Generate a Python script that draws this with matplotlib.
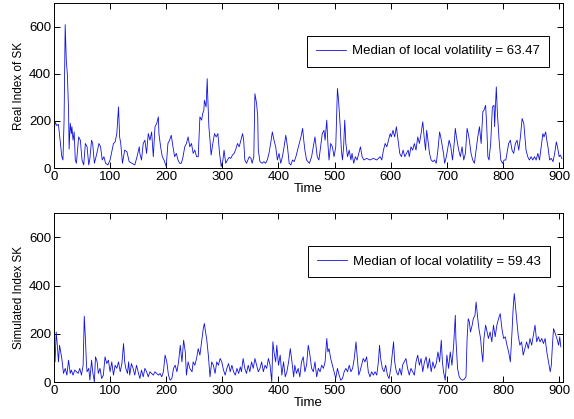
import matplotlib
matplotlib.use("Agg")
import matplotlib.pyplot as plt

plt.rcParams['font.family'] = ['Liberation Sans', 'DejaVu Sans']

# real index (time, value)
real_t = [0, 2, 5, 8, 11, 14, 16, 18, 20, 22, 24, 26, 27, 29, 31, 32, 34, 36, 38, 40,
          44, 47, 50, 53, 56, 59, 62, 64, 67, 69, 72, 75, 78, 80, 83, 86, 89, 92, 96, 100,
          103, 106, 109, 112, 115, 117, 119, 122, 126, 130, 134, 139, 144, 148, 152, 153, 156, 159, 162, 165,
          168, 171, 174, 177, 180, 183, 186, 187, 190, 193, 196, 200, 203, 206, 209, 212, 215, 218, 221, 224,
          227, 230, 233, 236, 239, 242, 245, 248, 251, 254, 257, 260, 263, 265, 267, 268, 271, 273, 274, 276,
          278, 280, 283, 286, 289, 292, 295, 298, 301, 303, 306, 309, 312, 315, 318, 321, 324, 327, 330, 333,
          336, 338, 340, 343, 348, 351, 353, 356, 358, 361, 363, 364, 367, 371, 374, 377, 380, 383, 386, 389,
          392, 395, 398, 401, 404, 407, 410, 413, 416, 419, 422, 425, 428, 431, 434, 437, 440, 443, 445, 447,
          450, 455, 459, 462, 465, 467, 469, 472, 475, 478, 481, 483, 486, 488, 490, 493, 496, 499, 502, 505,
          507, 510, 512, 514, 516, 518, 520, 523, 526, 529, 531, 534, 537, 540, 543, 546, 549, 552, 557, 563,
          569, 575, 581, 584, 587, 590, 593, 596, 599, 601, 604, 607, 610, 613, 616, 619, 622, 625, 628, 631,
          633, 636, 639, 642, 645, 648, 651, 654, 657, 660, 662, 664, 667, 669, 672, 675, 678, 681, 684, 687,
          689, 691, 694, 696, 699, 701, 704, 707, 710, 713, 715, 717, 721, 724, 727, 730, 733, 736, 738, 740,
          743, 746, 749, 752, 755, 758, 761, 764, 766, 769, 771, 773, 775, 778, 781, 784, 785, 786, 788, 790,
          793, 796, 799, 802, 805, 807, 810, 813, 816, 819, 822, 825, 828, 831, 834, 837, 839, 841, 844, 847,
          850, 853, 856, 859, 862, 865, 868, 871, 873, 876, 878, 880, 883, 886, 889, 892, 895, 897, 900, 902,
          905]
real_v = [140, 195, 180, 185, 118, 48, 34, 200, 608, 456, 393, 245, 80, 190, 146, 175, 118, 153, 34, 20,
          132, 118, 34, 13, 104, 90, 13, 40, 118, 104, 20, 48, 80, 104, 90, 34, 48, 20, 13, 34,
          70, 104, 111, 146, 259, 132, 104, 20, 76, 69, 27, 20, 13, 48, 90, 62, 34, 104, 118, 62,
          146, 118, 153, 48, 175, 189, 217, 146, 90, 48, 34, 6, 104, 118, 139, 90, 48, 62, 34, 20,
          20, 48, 90, 104, 132, 90, 104, 62, 76, 48, 48, 217, 203, 231, 245, 287, 259, 379, 301, 175,
          118, 55, 104, 146, 132, 146, 62, 6, 34, 76, 20, 34, 45, 41, 55, 62, 80, 104, 90, 118,
          146, 118, 34, 20, 48, 41, 20, 48, 315, 273, 217, 76, 27, 20, 27, 20, 34, 62, 104, 153,
          118, 90, 34, 62, 20, 48, 90, 139, 90, 20, 13, 34, 27, 48, 76, 104, 132, 168, 118, 76,
          34, 20, 48, 90, 132, 90, 48, 34, 90, 146, 160, 118, 203, 104, 34, 104, 90, 48, 90, 337,
          287, 175, 76, 34, 90, 203, 104, 48, 76, 34, 62, 20, 48, 34, 62, 90, 48, 34, 41, 34,
          41, 34, 48, 34, 76, 104, 90, 118, 146, 132, 160, 132, 175, 118, 62, 48, 76, 48, 62, 76,
          48, 90, 76, 104, 76, 132, 104, 146, 196, 118, 76, 160, 104, 62, 34, 27, 34, 20, 76, 153,
          132, 104, 62, 20, 48, 76, 118, 90, 34, 104, 168, 132, 76, 48, 90, 34, 62, 168, 146, 118,
          62, 34, 20, 76, 132, 175, 104, 238, 245, 266, 175, 48, 34, 104, 259, 266, 175, 231, 344, 231,
          118, 34, 20, 34, 34, 62, 104, 118, 76, 62, 104, 118, 76, 132, 210, 189, 132, 76, 48, 34,
          48, 34, 48, 34, 62, 34, 90, 146, 132, 153, 118, 90, 34, 41, 27, 62, 111, 90, 48, 55,
          40]

# simulated index (time, value)
sim_t = [0, 2, 4, 6, 8, 10, 12, 14, 17, 20, 23, 26, 29, 31, 34, 37, 40, 43, 46, 49,
         52, 54, 56, 58, 59, 62, 64, 67, 69, 72, 74, 77, 79, 82, 85, 88, 91, 94, 97, 100,
         103, 106, 109, 112, 115, 118, 121, 124, 126, 128, 131, 133, 135, 138, 141, 144, 147, 150, 153, 156,
         159, 162, 165, 168, 171, 174, 177, 180, 183, 186, 189, 192, 195, 198, 201, 204, 207, 210, 213, 216,
         219, 222, 225, 228, 231, 234, 236, 239, 242, 246, 248, 251, 254, 257, 260, 263, 266, 268, 270, 272,
         275, 278, 281, 284, 287, 290, 293, 296, 299, 302, 305, 308, 311, 314, 317, 320, 323, 326, 329, 332,
         334, 337, 340, 343, 346, 349, 352, 355, 358, 361, 364, 367, 370, 373, 376, 379, 382, 385, 388, 390,
         392, 395, 397, 400, 403, 406, 409, 412, 415, 418, 421, 424, 427, 429, 432, 435, 438, 441, 444, 447,
         450, 453, 456, 459, 462, 465, 468, 471, 474, 477, 480, 483, 486, 488, 490, 493, 496, 499, 502, 505,
         508, 511, 514, 517, 520, 523, 526, 529, 532, 535, 538, 540, 543, 545, 548, 551, 554, 557, 560, 563,
         566, 569, 572, 575, 578, 580, 582, 585, 588, 591, 594, 597, 600, 603, 605, 607, 610, 613, 616, 619,
         621, 624, 627, 630, 633, 636, 639, 642, 645, 648, 651, 654, 657, 660, 663, 666, 669, 672, 675, 678,
         681, 684, 687, 690, 692, 694, 697, 700, 703, 706, 709, 712, 715, 716, 719, 722, 725, 728, 731, 734,
         736, 738, 740, 742, 745, 747, 750, 752, 755, 757, 760, 762, 764, 766, 769, 771, 774, 777, 780, 783,
         786, 789, 792, 795, 798, 801, 804, 807, 810, 813, 816, 818, 820, 823, 825, 827, 830, 833, 836, 839,
         842, 845, 848, 851, 854, 857, 860, 863, 866, 869, 872, 875, 878, 881, 884, 886, 888, 890, 893, 896,
         899, 901, 903]
sim_v = [208, 84, 208, 153, 84, 153, 125, 98, 36, 57, 29, 91, 36, 50, 29, 50, 43, 36, 57, 29,
         70, 273, 181, 70, 43, 57, 8, 91, 43, 1, 105, 84, 36, 57, 15, 29, 105, 77, 91, 43,
         84, 29, 70, 57, 84, 43, 77, 160, 84, 57, 36, 84, 29, 77, 57, 29, 70, 43, 15, 50,
         22, 57, 43, 22, 43, 36, 29, 43, 36, 29, 36, 22, 43, 112, 84, 29, 8, 15, 57, 70,
         43, 84, 153, 84, 174, 125, 29, 84, 57, 43, 84, 70, 98, 139, 112, 167, 222, 243, 208, 181,
         112, 22, 84, 70, 36, 84, 70, 98, 84, 50, 29, 57, 77, 43, 70, 43, 29, 57, 36, 63,
         43, 98, 57, 36, 70, 43, 84, 57, 98, 70, 43, 57, 84, 43, 70, 57, 98, 70, 1, 167,
         125, 84, 153, 70, 112, 29, 84, 22, 43, 84, 139, 84, 22, 70, 36, 57, 22, 84, 105, 43,
         70, 153, 112, 57, 43, 84, 22, 57, 43, 70, 57, 84, 181, 125, 139, 98, 70, 43, 15, 57,
         29, 8, 15, 43, 57, 43, 70, 43, 57, 98, 167, 112, 29, 43, 70, 98, 84, 105, 43, 22,
         43, 29, 43, 29, 84, 153, 98, 57, 43, 70, 29, 15, 57, 125, 167, 84, 43, 29, 57, 29,
         70, 84, 98, 57, 29, 57, 43, 29, 84, 112, 70, 98, 43, 84, 105, 57, 98, 43, 84, 57,
         77, 125, 84, 174, 84, 43, 8, 112, 57, 125, 70, 153, 277, 181, 57, 22, 12, 8, 12, 22,
         181, 263, 250, 208, 236, 263, 277, 332, 263, 222, 181, 125, 84, 181, 236, 215, 181, 208, 167, 236,
         188, 236, 263, 284, 222, 181, 188, 153, 125, 84, 208, 305, 367, 291, 236, 194, 153, 167, 112, 139,
         167, 139, 181, 153, 194, 236, 167, 188, 167, 181, 160, 181, 125, 84, 43, 70, 153, 222, 201, 181,
         153, 188, 146]

labels = ["Real Index of SK", "Simulated Index SK"]
medians = [63.47, 59.43]

fig = plt.figure(figsize=(5.74, 4.19), dpi=100)
ax_top = fig.add_axes([0.094, 0.599, 0.887, 0.394])
ax_bot = fig.add_axes([0.094, 0.088, 0.887, 0.403])

series = [(real_t, real_v), (sim_t, sim_v)]
legend_anchor = [(0.972, 0.80), (0.974, 0.805)]

for ax, (t, v), lab, med, anc in zip([ax_top, ax_bot], series, labels, medians, legend_anchor):
    ax.plot(t, v, color='#1010e0', lw=0.6,
            label='Median of local volatility = %.2f' % med)
    ax.set_xlim(0, 907)
    ax.set_ylim(0, 700)
    ax.set_xticks(range(0, 901, 100))
    ax.set_yticks([0, 200, 400, 600])
    ax.tick_params(direction='in', top=True, right=True, length=4, width=0.7,
                   labelsize=9.5, pad=2)
    for s in ax.spines.values():
        s.set_linewidth(0.7)
    ax.set_xlabel('Time', fontsize=9.5, labelpad=0)
    ax.set_ylabel(lab, fontsize=8.5, labelpad=3)
    leg = ax.legend(loc='upper right', bbox_to_anchor=anc, fontsize=9.5,
                    fancybox=False, edgecolor='black', framealpha=1,
                    handlelength=2.3, borderpad=0.7, handletextpad=0.4,
                    borderaxespad=0)
    leg.get_frame().set_linewidth(0.7)

fig.savefig('out.png', dpi=100)
